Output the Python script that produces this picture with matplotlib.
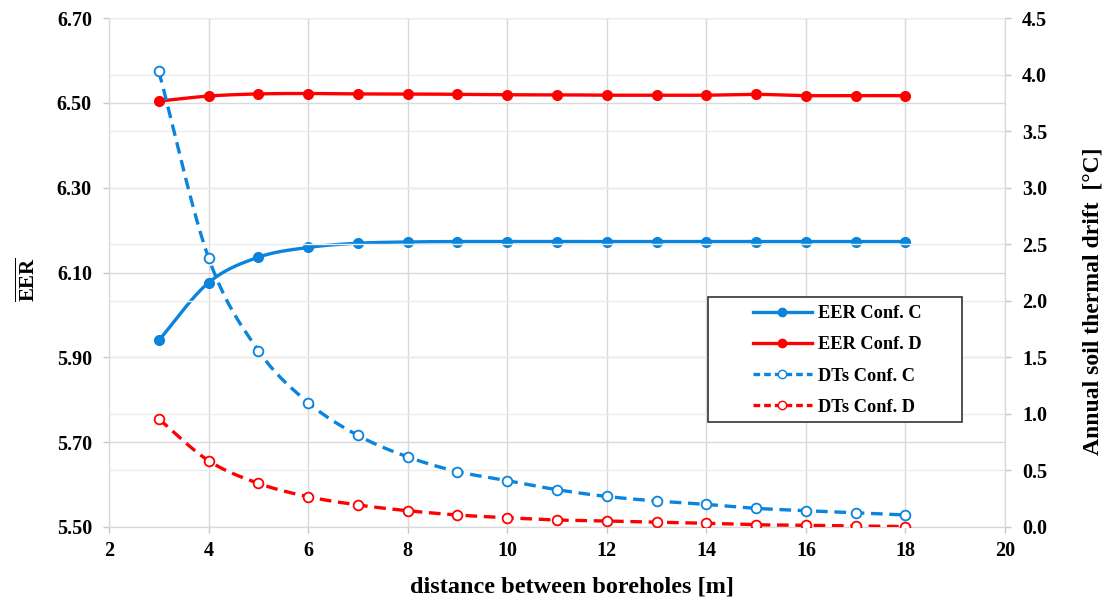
import numpy as np
import matplotlib
matplotlib.use("Agg")
import matplotlib.pyplot as plt
from matplotlib.lines import Line2D
from matplotlib.patches import Rectangle

# ---- data ----
distance = [3, 4, 5, 6, 7, 8, 9, 10, 11, 12, 13, 14, 15, 16, 17, 18]
eer_c = [5.940, 6.076, 6.136, 6.159, 6.169, 6.172, 6.173, 6.173, 6.173, 6.173,
         6.173, 6.173, 6.173, 6.173, 6.173, 6.173]
eer_d = [6.504, 6.516, 6.521, 6.522, 6.521, 6.521, 6.520, 6.519, 6.519, 6.518,
         6.518, 6.518, 6.520, 6.517, 6.517, 6.517]
dts_c = [4.03, 2.38, 1.56, 1.10, 0.81, 0.62, 0.49, 0.41, 0.33, 0.27, 0.23,
         0.20, 0.165, 0.144, 0.126, 0.106]
dts_d = [0.955, 0.586, 0.386, 0.268, 0.195, 0.144, 0.106, 0.082, 0.062, 0.053,
         0.042, 0.033, 0.020, 0.015, 0.009, 0.004]
labels = ["EER Conf. C", "EER Conf. D", "DTs Conf. C", "DTs Conf. D"]
x_ticks = [2, 4, 6, 8, 10, 12, 14, 16, 18, 20]
left_ticks = [5.50, 5.70, 5.90, 6.10, 6.30, 6.50, 6.70]
right_ticks = [0.0, 0.5, 1.0, 1.5, 2.0, 2.5, 3.0, 3.5, 4.0, 4.5]

BLUE = "#0a84dc"
RED = "#ff0000"
GRID = "#d9d9d9"

plt.rcParams["font.family"] = ["Liberation Serif", "DejaVu Serif"]
plt.rcParams["font.weight"] = "bold"
plt.rcParams["mathtext.fontset"] = "custom"
plt.rcParams["mathtext.bf"] = "Liberation Serif:bold"
plt.rcParams["mathtext.rm"] = "Liberation Serif:bold"


def smooth(x, y, n=20):
    """Catmull-Rom rendering of a line through the data points (Excel 'smoothed line')."""
    x = np.asarray(x, float)
    y = np.asarray(y, float)
    P = np.column_stack([x, y])
    P = np.vstack([2 * P[0] - P[1], P, 2 * P[-1] - P[-2]])
    out = []
    t = np.linspace(0, 1, n, endpoint=False)[:, None]
    for i in range(1, len(P) - 2):
        p0, p1, p2, p3 = P[i - 1], P[i], P[i + 1], P[i + 2]
        seg = 0.5 * ((2 * p1) + (-p0 + p2) * t + (2 * p0 - 5 * p1 + 4 * p2 - p3) * t ** 2
                     + (-p0 + 3 * p1 - 3 * p2 + p3) * t ** 3)
        out.append(seg)
    out.append(P[-2][None, :])
    S = np.vstack(out)
    return S[:, 0], S[:, 1]


W, H = 1110, 602
fig = plt.figure(figsize=(W / 100, H / 100), dpi=100)
L, R, T, B = 109, 1005, 18, 527
ax = fig.add_axes([L / W, 1 - B / H, (R - L) / W, (B - T) / H])
ax2 = ax.twinx()

ax.set_xlim(2, 20)
ax.set_ylim(5.50, 6.70)
ax2.set_ylim(0, 4.5)

ax.set_xticks(x_ticks)
ax.set_yticks(left_ticks)
ax.set_yticklabels([f"{v:.2f}" for v in left_ticks])
ax2.set_yticks(right_ticks)
ax2.set_yticklabels([f"{v:.1f}" for v in right_ticks])

ax.grid(True, color=GRID, linewidth=1.0, zorder=0)
ax2.grid(True, axis="y", color="#ececec", linewidth=1.0, zorder=0)
ax.set_axisbelow(True)
ax2.set_axisbelow(True)

for a in (ax, ax2):
    for s in a.spines.values():
        s.set_color(GRID)
    a.spines["top"].set_visible(False)
    a.tick_params(colors="#c8c8c8", labelcolor="black", labelsize=14.5,
                  length=4.3, width=1, pad=8)
for lab in ax.get_xticklabels() + ax.get_yticklabels() + ax2.get_yticklabels():
    lab.set_fontweight("bold")
ax.tick_params(axis="x", pad=6)

lw = 2.4
ms = 7
xs, ys = smooth(distance, eer_c)
ax.plot(xs, ys, color=BLUE, lw=lw, zorder=3)
ax.plot(distance, eer_c, "o", color=BLUE, ms=ms, zorder=4)
xs, ys = smooth(distance, eer_d)
ax.plot(xs, ys, color=RED, lw=lw, zorder=3)
ax.plot(distance, eer_d, "o", color=RED, ms=ms, zorder=4)

xs, ys = smooth(distance, dts_c)
ax2.plot(xs, ys, color=BLUE, lw=lw, ls=(0, (3.5, 2)), zorder=3)
ax2.plot(distance, dts_c, "o", color=BLUE, mfc="white", mew=1.3, ms=ms, zorder=4)
xs, ys = smooth(distance, dts_d)
ax2.plot(xs, ys, color=RED, lw=lw, ls=(0, (3.5, 2)), zorder=3)
ax2.plot(distance, dts_d, "o", color=RED, mfc="white", mew=1.3, ms=ms, zorder=4)

ax.set_xlabel("distance between boreholes [m]", fontsize=17.5, fontweight="bold")
ax.xaxis.set_label_coords((572 - L) / (R - L), (B - 577) / (B - T))
ax.set_ylabel(r"$\mathbf{\overline{EER}}$", fontsize=15)
ax.yaxis.set_label_coords((40 - L) / (R - L), (B - 279) / (B - T))
ax2.set_ylabel("Annual soil thermal drift  [°C]", fontsize=17, fontweight="bold")
ax2.yaxis.set_label_coords((1083 - L) / (R - L), (B - 301) / (B - T))

# legend frame
fig.add_artist(Rectangle((708 / W, 1 - 422 / H), 254 / W, 125 / H,
                         transform=fig.transFigure, facecolor="white",
                         edgecolor="#333333", linewidth=1.2, zorder=4))
handles = [
    Line2D([], [], color=BLUE, lw=lw, marker="o", ms=6),
    Line2D([], [], color=RED, lw=lw, marker="o", ms=6),
    Line2D([], [], color=BLUE, lw=lw, ls=(0, (2, 1.2)), marker="o", mfc="white", ms=6),
    Line2D([], [], color=RED, lw=lw, ls=(0, (2, 1.2)), marker="o", mfc="white", ms=6),
]
leg = fig.legend(handles, labels, loc="upper left",
                 bbox_to_anchor=(753 / W, 1 - 305 / H),
                 bbox_transform=fig.transFigure,
                 frameon=False,
                 prop={"family": "Liberation Serif", "weight": "bold", "size": 13.2},
                 handlelength=3.2, labelspacing=0.78, borderpad=0, handletextpad=0.35,
                 borderaxespad=0)
leg.set_zorder(5)

fig.savefig("out.png", dpi=100)
